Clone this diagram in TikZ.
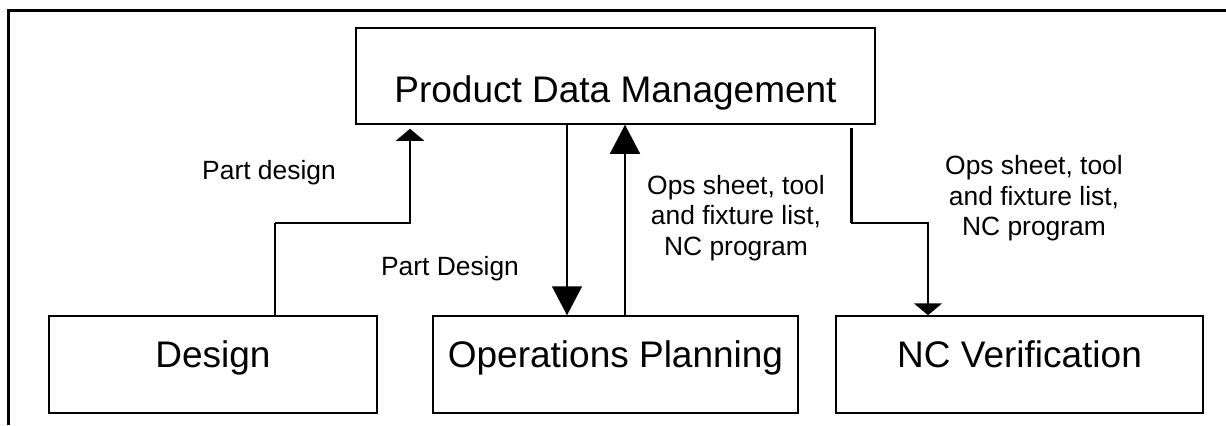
\documentclass[tikz,border=0pt]{standalone}
\usepackage{fontspec}
\setmainfont{Liberation Sans}
\usetikzlibrary{arrows.meta}

\begin{document}
\begin{tikzpicture}[x=0.5pt,y=-0.5pt]
        \tikzstyle{every node} = [rectangle, inner sep=0pt]
        \tikzstyle{box} = [draw, line width=0.75pt, font=\fontsize{18.5}{22}\selectfont, text height=10pt, text depth=7.5pt, minimum height=48.5pt]
        \tikzstyle{lbl} = [align=center, font=\fontsize{13.2}{15.25}\selectfont]
        \tikzstyle{link} = [line width=0.8pt]
        \tikzstyle{heavy} = [line width=1.4pt]
        \tikzstyle{bighead} = [-{Triangle[width=15pt,length=14.5pt]}]
        \tikzstyle{flathead} = [-{Triangle[width=14pt,length=6pt]}]
        \useasboundingbox (0,0) rectangle (1226,425);
        \draw[line width=1.5pt] (8,425) -- (8,10) -- (1226,10);
        \node[box, minimum width=259.5pt, minimum height=48pt, text height=26pt, text depth=0pt] (pdm) at (615.5,76) {Product Data Management};
        \node[box, minimum width=164pt] (design) at (213,364.5) {Design};
        \node[box, minimum width=182.5pt] (ops) at (615.5,364.5) {Operations Planning};
        \node[box, minimum width=183.5pt] (ncv) at (1019.5,364.5) {NC Verification};
        \node[lbl] (l1) at (269,173) {Part design};
        \node[lbl] (l2) at (450,269) {Part Design};
        \node[lbl] (l3) at (736,218) {Ops sheet, tool\\and fixture list,\\NC program};
        \node[lbl] (l4) at (1034,198.5) {Ops sheet, tool\\and fixture list,\\NC program};
        \coordinate (d1) at (275,223);
        \coordinate (d2) at (410,223);
        \coordinate (n1) at (851,223);
        \coordinate (n2) at (928,223);
        \coordinate (dn) at (567,0);
        \coordinate (up) at (625,0);
        \draw[heavy] (design.north -| d1) -- (d1);
        \draw[link, line width=1pt, flathead, shorten >=2pt] (d1) -- (d2) -- (d2 |- pdm.south);
        \foreach \from/\to in {pdm.south -| dn/ops.north -| dn, ops.north -| up/pdm.south -| up}
            \draw[link, bighead] (\from) -- (\to);
        \draw[heavy, line width=1.5pt, shorten <=1.5pt] (pdm.south -| n1) -- (n1);
        \draw[link, line width=1pt, flathead] (n1) -- (n2) -- (ncv.north -| n2);
    \end{tikzpicture}
\end{document}
